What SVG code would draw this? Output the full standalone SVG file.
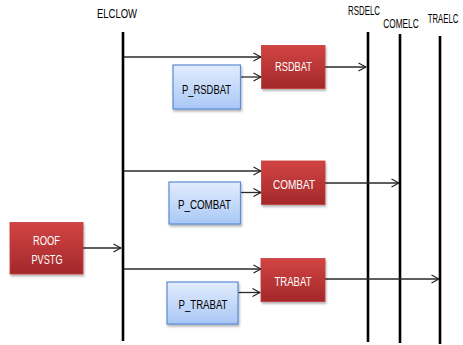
<svg xmlns="http://www.w3.org/2000/svg" width="463" height="345" viewBox="0 0 463 345">
  <defs>
    <linearGradient id="redFill" x1="0" y1="0" x2="0" y2="1">
      <stop offset="0" stop-color="#d24444"/>
      <stop offset="1" stop-color="#a3282a"/>
    </linearGradient>
    <linearGradient id="blueFill" x1="0" y1="0" x2="0" y2="1">
      <stop offset="0" stop-color="#e2ecfc"/>
      <stop offset="1" stop-color="#a9c8f6"/>
    </linearGradient>
    <filter id="shadow" x="-10%" y="-10%" width="130%" height="140%">
      <feDropShadow dx="1" dy="2" stdDeviation="1.2" flood-color="#000" flood-opacity="0.3"/>
    </filter>
    <marker id="arrow" viewBox="0 0 10 10" refX="9" refY="5" markerWidth="10" markerHeight="10" markerUnits="userSpaceOnUse" orient="auto">
      <path d="M1.5,1 L9,5 L1.5,9" fill="none" stroke="#1a1a1a" stroke-width="1.1"/>
    </marker>
  </defs>
  <style>
    text { font-family: "Liberation Sans", Arial, sans-serif; font-size: 12px; text-anchor: middle; }
    .bus { stroke: #000; stroke-width: 2.6; }
    .conn { stroke: #2a2a2a; stroke-width: 1.3; fill: none; marker-end: url(#arrow); }
    .red rect { fill: url(#redFill); stroke: #c43a3a; stroke-width: 0.8; filter: url(#shadow); }
    .red text { fill: #fff; }
    .blue rect { fill: url(#blueFill); stroke: #5b8ad6; stroke-width: 1.2; filter: url(#shadow); }
    .blue text { fill: #000; }
    .label { fill: #000; }
  </style>
  <rect width="463" height="345" fill="#fff"/>

  <!-- buses (labels condensed horizontally) -->
  <g id="ELCLOW">
    <line class="bus" x1="123" y1="32" x2="123" y2="341"/>
    <text class="label" transform="translate(117,18) scale(0.79,1)">ELCLOW</text>
  </g>
  <g id="RSDELC">
    <line class="bus" x1="368" y1="32" x2="368" y2="342"/>
    <text class="label" transform="translate(364,15) scale(0.66,1)">RSDELC</text>
  </g>
  <g id="COMELC">
    <line class="bus" x1="400" y1="34" x2="400" y2="343"/>
    <text class="label" transform="translate(401,28) scale(0.69,1)">COMELC</text>
  </g>
  <g id="TRAELC">
    <line class="bus" x1="440" y1="36" x2="440" y2="344"/>
    <text class="label" transform="translate(443,22.5) scale(0.65,1)">TRAELC</text>
  </g>

  <!-- connectors -->
  <g id="connectors">
    <line class="conn" x1="124" y1="57" x2="261" y2="57"/>
    <line class="conn" x1="241" y1="77" x2="261" y2="77"/>
    <line class="conn" x1="325" y1="67" x2="366" y2="67"/>
    <line class="conn" x1="124" y1="171" x2="261" y2="171"/>
    <line class="conn" x1="241" y1="192.5" x2="261" y2="192.5"/>
    <line class="conn" x1="325" y1="183" x2="399" y2="183"/>
    <line class="conn" x1="124" y1="269" x2="261" y2="269"/>
    <line class="conn" x1="238" y1="292.5" x2="260" y2="292.5"/>
    <line class="conn" x1="325" y1="279" x2="439" y2="279"/>
    <line class="conn" x1="83" y1="248" x2="121" y2="248"/>
  </g>

  <!-- batteries -->
  <g id="RSDBAT" class="red">
    <rect x="261.5" y="45.5" width="63.5" height="43"/>
    <text x="293.5" y="71" textLength="37" lengthAdjust="spacingAndGlyphs">RSDBAT</text>
  </g>
  <g id="COMBAT" class="red">
    <rect x="261.5" y="161" width="63.5" height="43.5"/>
    <text x="294" y="188.5" textLength="42" lengthAdjust="spacingAndGlyphs">COMBAT</text>
  </g>
  <g id="TRABAT" class="red">
    <rect x="261" y="258.5" width="64" height="43"/>
    <text x="293" y="286" textLength="37" lengthAdjust="spacingAndGlyphs">TRABAT</text>
  </g>
  <g id="ROOF_PVSTG" class="red">
    <rect x="10" y="222.5" width="73" height="51.5"/>
    <text x="46.5" y="245" textLength="27" lengthAdjust="spacingAndGlyphs">ROOF</text>
    <text x="47" y="263.5" textLength="31" lengthAdjust="spacingAndGlyphs">PVSTG</text>
  </g>

  <!-- battery power inputs -->
  <g id="P_RSDBAT" class="blue">
    <rect x="173" y="65" width="67.5" height="44"/>
    <text x="206.5" y="93.5" textLength="49" lengthAdjust="spacingAndGlyphs">P_RSDBAT</text>
  </g>
  <g id="P_COMBAT" class="blue">
    <rect x="169" y="182" width="71.5" height="42"/>
    <text x="204.5" y="208.5" textLength="53" lengthAdjust="spacingAndGlyphs">P_COMBAT</text>
  </g>
  <g id="P_TRABAT" class="blue">
    <rect x="167" y="282" width="71" height="42"/>
    <text x="203" y="309" textLength="49" lengthAdjust="spacingAndGlyphs">P_TRABAT</text>
  </g>
</svg>
